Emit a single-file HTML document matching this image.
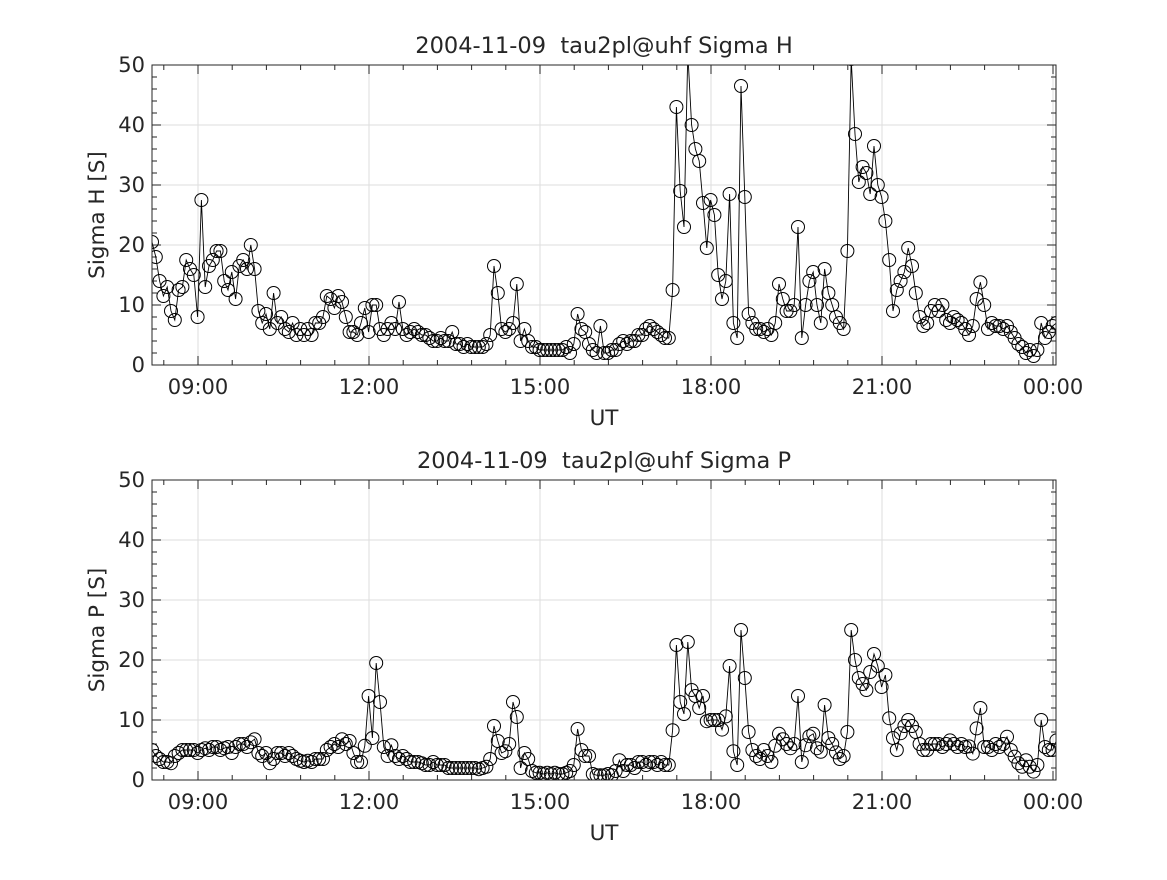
<!DOCTYPE html>
<html><head><meta charset="utf-8"><style>
body{margin:0;background:#fff}
svg text{font-family:"DejaVu Sans","Liberation Sans",sans-serif;fill:#262626}
</style></head><body>
<svg id="c" width="1167" height="875" xmlns="http://www.w3.org/2000/svg"></svg>
<script>
const tickLabels=["09:00","12:00","15:00","18:00","21:00","00:00"];
const tickHours=[9,12,15,18,21,24];
const yTicks=[0,10,20,30,40,50];
const startHour=8.193, stepHour=4/60;
const sigmaH=[20.5,18,14,11.5,13,9,7.5,12.5,13,17.5,16,15,8,
27.5,13,16.5,17.5,19,19,14,12.5,15.5,11,16.5,17.5,16,20,16,
9,7,8.5,6,12,7,8,6,5.5,7,5,6,5,6,5,
7,7,8,11.5,11,9.5,11.5,10.5,8,5.5,5.5,5,7,9.5,5.5,
10,10,6,5,6,7,6,10.5,6,5,5.5,6,5.5,5,5,
4.5,4,4,4.5,4,4,5.5,3.5,3.5,3,3.5,3,3,3,3,3.5,5,
16.5,12,6,5.5,6,7,13.5,4,6,4,3,3,2.5,2.5,2.5,
2.5,2.5,2.5,2.5,3,2,3.5,8.5,6,5.5,3.5,2.5,2,6.5,2,
2,2.5,2.5,3.5,4,3.5,4,4,5,5,6,6.5,6,5.5,5,4.5,4.5,
12.5,43,29,23,52,40,36,34,27,19.5,27.5,25,15,11,14,
28.5,7,4.5,46.5,28,8.5,7,6,6,5.5,6,5,
7,13.5,11,9,9,10,23,4.5,10,14,15.5,10,7,16,12,10,8,7,6,19,
51,38.5,30.5,33,32,28.5,36.5,30,28,24,17.5,9,12.5,14,15.5,19.5,16.5,12,8,6.5,
7,9,10,9,10,7.5,7,8,7.5,7,6,5,6.5,11,13.8,10,6,7,6.5,6.5,
6,6.5,5.5,4.5,3.5,3,2,2.5,1.5,2.5,7,4.5,5.5,6.5,7];
const sigmaP=[5,4,3.5,3,3,2.8,4,4.5,5,5,5,5,4.5,5,5.3,5,5.5,5.5,5,5.3,
5.5,4.5,5.5,6,6,5.5,6.3,6.8,4.5,4,4.5,2.8,3.5,4.5,4.5,4,4.5,4,3.5,3.2,
3,3.2,3,3.5,3.5,3.5,5,5.5,6,5.5,6.8,6,6.5,4.5,3,3,5.7,14,7,19.5,
13,5.5,4,5.8,4,3.5,4,3.5,3,3,3,2.8,2.5,2.5,3,2.5,2.5,2.5,2,2,
2,2,2,2,2,2,1.8,2,2.2,3.5,9,6.5,4.5,4.8,6,13,10.5,2,4.5,3.5,
1.5,1.2,1.2,1,1.2,1,1.2,1,1,1.2,1.5,2.5,8.5,5,4,4,1,0.8,0.8,0.8,
1,0.8,1.5,3.3,1.5,2.5,2.5,2,3,3,2.5,3,3,2.5,3,2.5,2.5,8.3,22.5,13,
11,23,15,14,12,14,9.8,10,10,10,8.4,10.6,19,4.8,2.5,25,17,8,5,4,
3.5,5,4,3,5.7,7.7,6.8,6,5.3,6,14,3,5.8,7.3,7.7,5.3,4.7,12.5,7,6,
4.6,3.5,4,8,25,20,17,16,15,18,21,19,15.5,17.5,10.3,7,5,7.8,9,10,
9,8,6,5,5,6,6,6,5.5,6,6.6,6,5.5,6,5.5,5.6,4.4,8.6,12,5.5,
5.5,5,6,5.5,6,7.2,5,3.9,2.8,2.2,3.3,2.2,1.4,2.5,10,5.5,5,5,6.6];

const svg=document.getElementById('c');
const NS='http://www.w3.org/2000/svg';
function mk(tag,attrs,parent){const e=document.createElementNS(NS,tag);for(const k in attrs)e.setAttribute(k,attrs[k]);(parent||svg).appendChild(e);return e;}
const X0=152,X1=1056;
const xs=h=>198+(h-9)*57;

function panel(top,bottom,values,title,ylabel,key){
  const g=mk('g',{});
  
  
  const ys=v=>bottom-(v/50)*(bottom-top);
  mk('rect',{x:X0,y:top,width:X1-X0,height:bottom-top,fill:'#fff'},g);
  const clipId='clip'+key;
  const cp=mk('clipPath',{id:clipId},g);
  mk('rect',{x:X0,y:top,width:X1-X0,height:bottom-top},cp);
  tickHours.forEach(h=>{const l=mk('line',{x1:xs(h),x2:xs(h),y1:top,y2:bottom,stroke:'#dedede','stroke-width':1},g);
    });
  yTicks.forEach(v=>{const l=mk('line',{x1:X0,x2:X1,y1:ys(v),y2:ys(v),stroke:'#dedede','stroke-width':1},g);
    });
  for(let h=9-0.6;h<=24.01;h+=0.6){const x=xs(h);if(x<X0||x>X1)continue;
    mk('line',{x1:x,x2:x,y1:bottom,y2:bottom-5,stroke:'#262626'},g);
    mk('line',{x1:x,x2:x,y1:top,y2:top+5,stroke:'#262626'},g);}
  for(let v=0;v<=50;v+=2){const y=ys(v);
    mk('line',{x1:X0,x2:X0+5,y1:y,y2:y,stroke:'#262626'},g);
    mk('line',{x1:X1,x2:X1-5,y1:y,y2:y,stroke:'#262626'},g);}
  tickHours.forEach((h,i)=>{const x=xs(h);
    mk('line',{x1:x,x2:x,y1:bottom,y2:bottom-9,stroke:'#262626'},g);
    mk('line',{x1:x,x2:x,y1:top,y2:top+9,stroke:'#262626'},g);
    const t=mk('text',{x:x,y:bottom+29,'font-size':21,'text-anchor':'middle'},g);t.textContent=tickLabels[i];
    });
  yTicks.forEach(v=>{const y=ys(v);
    mk('line',{x1:X0,x2:X0+9,y1:y,y2:y,stroke:'#262626'},g);
    mk('line',{x1:X1,x2:X1-9,y1:y,y2:y,stroke:'#262626'},g);
    const t=mk('text',{x:X0-7,y:y+7,'font-size':21,'text-anchor':'end'},g);t.textContent=v;
    });
  const dg=mk('g',{'clip-path':'url(#'+clipId+')'},g);
  
  
  const pts=values.map((v,i)=>[xs(startHour+i*stepHour),ys(v)]);
  const pl=mk('polyline',{points:pts.map(p=>p[0].toFixed(1)+','+p[1].toFixed(1)).join(' '),fill:'none',stroke:'#000','stroke-width':0.9},dg);
  
  
  pts.forEach(p=>{const c=mk('circle',{cx:p[0],cy:p[1],r:6.5,fill:'none',stroke:'#000','stroke-width':1},dg);
    
    });
  const fr=mk('rect',{x:X0,y:top,width:X1-X0,height:bottom-top,fill:'none',stroke:'#262626','stroke-width':1},g);
  
  const tt=mk('text',{x:(X0+X1)/2,y:top-12,'font-size':22.5,'text-anchor':'middle'},g);tt.textContent=title;
  tt.setAttribute('style','white-space:pre');
  
  const xl=mk('text',{x:(X0+X1)/2,y:bottom+60,'font-size':21.5,'text-anchor':'middle'},g);xl.textContent='UT';
  
  const yl=mk('text',{x:0,y:0,'font-size':21.5,'text-anchor':'middle',transform:'translate(104,'+((top+bottom)/2)+') rotate(-90)'},g);yl.textContent=ylabel;
  
}
panel(65,365,sigmaH,'2004-11-09  tau2pl@uhf Sigma H','Sigma H [S]','sigma-h');
panel(480,780,sigmaP,'2004-11-09  tau2pl@uhf Sigma P','Sigma P [S]','sigma-p');
</script>
</body></html>
